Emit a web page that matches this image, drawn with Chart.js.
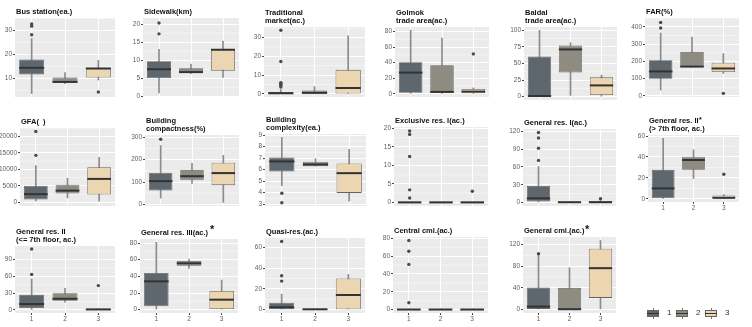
<!DOCTYPE html>
<html>
<head>
<meta charset="utf-8">
<script src="https://cdn.jsdelivr.net/npm/chart.js@4/dist/chart.umd.min.js"></script>
<style>
  html, body { margin: 0; padding: 0; background: #fff; }
  #wrap { position: relative; width: 752px; height: 327px; overflow: hidden; font-family: "Liberation Sans", Arial, sans-serif; }
  #wrap canvas { position: absolute; }
  .ttl { position: absolute; font-weight: bold; font-size: 7.5px; line-height: 8.5px; color: #111; white-space: pre; }
  .star { position: absolute; font-weight: bold; color: #111; line-height: 1; }
  .key { position: absolute; width: 12px; height: 11px; }
  .key .wh { position: absolute; left: 5.5px; top: 0; width: 1px; height: 11px; background: #777; }
  .key .bx { position: absolute; left: 0; top: 2px; width: 10px; height: 5px; border: 1px solid #666; }
  .key .md { position: absolute; left: 0; top: 4.5px; width: 12px; height: 1.5px; background: #333; }
  .klab { position: absolute; font-size: 8px; color: #333; }
</style>
</head>
<body>
<div id="wrap"></div>
<script>
// groups and fill colours
const GROUPS = ["1", "2", "3"];
const FILL = ["#5f676e", "#8e8b80", "#ecd5b1"];

// each group: [lower whisker, q1, median, q3, upper whisker]
const busStation = [[3.6, 11.6, 14.4, 17.9, 26.6], [7.8, 8.2, 8.5, 10.3, 12.4], [9.3, 10.3, 14.1, 14.4, 17.5]];
const busStationOut = [[28.2, 31.8, 32.7], [], [4.3]];
const sidewalk = [[0.9, 5.0, 7.5, 9.7, 13.0], [6.3, 6.5, 6.7, 7.8, 8.9], [5.2, 7.1, 12.9, 13.0, 15.3]];
const sidewalkOut = [[17.3, 20.3], [], []];
const market = [[0, 0, 0.3, 1.0, 2.2], [0, 0, 0.5, 1.8, 3.8], [0, 0.2, 3.1, 12.8, 31]];
const marketOut = [[3.6, 4.3, 5.0, 5.5, 6.0, 17.3, 34], [], []];
const golmok = [[0, 1.2, 27.2, 40.4, 81.6], [0, 1.2, 2.4, 36.6, 71.5], [0, 0.8, 2.8, 6.1, 7.5]];
const golmokOut = [[], [], [51.2]];
const baldal = [[0, 0.5, 1, 60.7, 100], [2, 36.6, 71.2, 77.3, 81.3], [0, 2.5, 17, 29.1, 32.5]];
const baldalOut = [[], [], []];
const far = [[34, 100, 142, 207, 364], [166, 166, 170, 255, 340], [130, 139, 159, 192, 245]];
const farOut = [[393, 425], [], [15]];
const gfa = [[500, 865, 2507, 5086, 11153], [1354, 2709, 3573, 5389, 7320], [400, 2421, 7118, 10663, 13650]];
const gfaOut = [[14236, 21440], [], []];
const compact = [[28, 62, 104, 142, 263], [94, 108, 126, 154, 183], [9, 86, 140, 186, 219]];
const compactOut = [[291], [], []];
const complexity = [[4.6, 5.83, 6.71, 7.06, 8.8], [6.3, 6.3, 6.45, 6.69, 6.95], [3.26, 3.97, 5.69, 6.54, 7.77]];
const complexityOut = [[3.11, 3.94], [], []];
const exclusive = [[0, 0, 0, 0.25, 0], [0, 0, 0, 0.25, 0], [0, 0, 0, 0.25, 0]];
const exclusiveOut = [[1.2, 3.4, 12.4, 18.4, 19.3], [], [3.0]];
const genRes1 = [[0, 1.6, 7, 28, 60.8], [0, 0.2, 0.5, 1, 1.5], [0, 0.2, 0.5, 2, 3]];
const genRes1Out = [[71, 91.5, 108.7, 118], [], [6.4]];
const genRes2High = [[0, 0, 10, 27.7, 57.7], [19.4, 27.7, 37.1, 40.3, 46.8], [0, 0, 1, 3.2, 4]];
const genRes2HighOut = [[], [], [23.5]];
const genRes2Low = [[0, 3.5, 10.6, 27, 55.3], [14, 16.5, 20, 30, 38.8], [0, 0, 1, 2, 2]];
const genRes2LowOut = [[63.5, 108.8], [], [43.5]];
const genRes3 = [[0, 4, 34, 44, 80.8], [49.6, 52.8, 55.6, 58.4, 60.8], [0, 0.8, 12, 22.4, 35.6]];
const genRes3Out = [[], [], []];
const quasi = [[0, 0.3, 2.2, 6.7, 15], [0, 0, 0.3, 0.6, 0.6], [0, 0.3, 14.1, 30.2, 34]];
const quasiOut = [[27.6, 32.7, 66], [], []];
const central = [[0, 0, 0, 0.6, 0.6], [0, 0, 0, 0.6, 0.6], [0, 0, 0, 0.6, 0.6]];
const centralOut = [[7.6, 50.8, 65.6, 77.7], [], []];
const genCml = [[0, 1.2, 5.5, 40.6, 100], [0, 0, 0.6, 40, 77], [1.2, 21.5, 76.3, 112, 127.4]];
const genCmlOut = [[103], [], []];

// y tick labels per panel
const busStationTicks = [10, 20, 30];
const sidewalkTicks = [0, 5, 10, 15, 20];
const marketTicks = [0, 10, 20, 30];
const golmokTicks = [0, 20, 40, 60, 80];
const baldalTicks = [0, 25, 50, 75, 100];
const farTicks = [0, 100, 200, 300, 400];
const gfaTicks = [0, 5000, 10000, 15000, 20000];
const compactTicks = [0, 100, 200, 300];
const complexityTicks = [3, 4, 5, 6, 7, 8, 9];
const exclusiveTicks = [0, 5, 10, 15, 20];
const genRes1Ticks = [0, 30, 60, 90, 120];
const genRes2HighTicks = [0, 20, 40, 60];
const genRes2LowTicks = [0, 30, 60, 90];
const genRes3Ticks = [0, 20, 40, 60, 80];
const quasiTicks = [0, 20, 40, 60];
const centralTicks = [0, 20, 40, 60, 80];
const genCmlTicks = [0, 40, 80, 120];

// panel layout: plot rect [left, top, right, bottom], y range [min, max]
const PANELS = [
  { t: "Bus station(ea.)", d: busStation, o: busStationOut, k: busStationTicks, r: [15, 18, 116, 100], y: [2.2, 35.2] },
  { t: "Sidewalk(km)", d: sidewalk, o: sidewalkOut, k: sidewalkTicks, r: [143, 18, 240, 100], y: [-0.2, 21.7] },
  { t: "Traditional\nmarket(ac.)", d: market, o: marketOut, k: marketTicks, r: [264, 27, 366, 100], y: [-1.7, 35.7] },
  { t: "Golmok\ntrade area(ac.)", d: golmok, o: golmokOut, k: golmokTicks, r: [395, 27, 490, 100], y: [-4.1, 85.7] },
  { t: "Baldal\ntrade area(ac.)", d: baldal, o: baldalOut, k: baldalTicks, r: [524, 27, 617, 100], y: [-5, 105] },
  { t: "FAR(%)", d: far, o: farOut, k: farTicks, r: [645, 18, 740, 100], y: [-6, 451] },
  { t: "GFA(  )", d: gfa, o: gfaOut, k: gfaTicks, r: [20, 128, 116, 209], y: [-1072, 22512] },
  { t: "Building\ncompactness(%)", d: compact, o: compactOut, k: compactTicks, r: [145, 135, 240, 209], y: [-7, 310] },
  { t: "Building\ncomplexity(ea.)", d: complexity, o: complexityOut, k: complexityTicks, r: [265, 134, 367, 209], y: [2.83, 9.1] },
  { t: "Exclusive res. I(ac.)", d: exclusive, o: exclusiveOut, k: exclusiveTicks, r: [394, 127, 489, 209], y: [-0.97, 20.4] },
  { t: "General res. I(ac.)", d: genRes1, o: genRes1Out, k: genRes1Ticks, r: [523, 129, 617, 209], y: [-5.9, 124] },
  { t: "General res. II\n(> 7th floor, ac.)", d: genRes2High, o: genRes2HighOut, k: genRes2HighTicks, r: [648, 135, 740, 202], y: [-3, 61], xl: true },
  { t: "General res. II\n(<= 7th floor, ac.)", d: genRes2Low, o: genRes2LowOut, k: genRes2LowTicks, r: [15, 246, 116, 313], y: [-5.4, 114.2], xl: true },
  { t: "General res. III(ac.)", d: genRes3, o: genRes3Out, k: genRes3Ticks, r: [140, 239, 238, 313], y: [-4, 84.8], xl: true },
  { t: "Quasi-res.(ac.)", d: quasi, o: quasiOut, k: quasiTicks, r: [265, 238, 366, 313], y: [-3.3, 69.3], xl: true },
  { t: "Central cml.(ac.)", d: central, o: centralOut, k: centralTicks, r: [393, 237, 489, 313], y: [-3.9, 81.6], xl: true },
  { t: "General cml.(ac.)", d: genCml, o: genCmlOut, k: genCmlTicks, r: [523, 237, 617, 313], y: [-6.4, 133.8], xl: true },
];

const STARS = [
  { x: 699, y: 116, size: 7 },
  { x: 210, y: 224, size: 11 },
  { x: 585, y: 224, size: 11 },
];

const FONT = '"Liberation Sans", Arial, sans-serif';
const TICK_COL = "#5e5e5e";
const YW = 30, PADT = 5, PADR = 3;
const wrap = document.getElementById("wrap");

// panel background, minor grid, median lines
const boxPlugin = {
  id: "boxplot",
  beforeDraw(chart) {
    const a = chart.chartArea, c = chart.ctx;
    c.save();
    c.fillStyle = "#ebebeb";
    c.fillRect(a.left, a.top, a.right - a.left, a.bottom - a.top);
    c.restore();
  },
  beforeDatasetsDraw(chart) {
    const a = chart.chartArea, c = chart.ctx, ys = chart.scales.y;
    const tk = ys.ticks.map((t) => t.value);
    const step = tk[1] - tk[0];
    c.save();
    c.strokeStyle = "rgba(255,255,255,0.75)";
    c.lineWidth = 0.6;
    for (let v = tk[0] - step / 2; v < ys.max; v += step) {
      if (v <= ys.min) continue;
      const y = ys.getPixelForValue(v);
      c.beginPath();
      c.moveTo(a.left, y);
      c.lineTo(a.right, y);
      c.stroke();
    }
    c.restore();
  },
  afterDatasetsDraw(chart) {
    const ds = chart.data.datasets[1];
    const meta = chart.getDatasetMeta(1);
    const ys = chart.scales.y, c = chart.ctx;
    c.save();
    c.strokeStyle = "#333";
    c.lineWidth = 2;
    meta.data.forEach((bar, i) => {
      const y = ys.getPixelForValue(ds.medians[i]);
      c.beginPath();
      c.moveTo(bar.x - bar.width / 2, y);
      c.lineTo(bar.x + bar.width / 2, y);
      c.stroke();
    });
    c.restore();
  },
};

PANELS.forEach((p) => {
  const [L, T, R, B] = p.r;
  const [ymin, ymax] = p.y;
  const XH = p.xl ? 11 : 1;

  const cv = document.createElement("canvas");
  const w = R - L + YW + PADR, h = PADT + (B - T) + XH;
  cv.width = w; cv.height = h;
  cv.style.left = (L - YW) + "px";
  cv.style.top = (T - PADT) + "px";
  cv.style.width = w + "px"; cv.style.height = h + "px";
  wrap.appendChild(cv);

  const ttl = document.createElement("div");
  ttl.className = "ttl";
  ttl.textContent = p.t;
  const n = p.t.split("\n").length;
  ttl.style.left = (L + 1) + "px";
  ttl.style.top = (T - 1.5 - 8.5 * n) + "px";
  wrap.appendChild(ttl);

  const pts = [];
  p.o.forEach((arr, i) => arr.forEach((v) => pts.push({ x: GROUPS[i], y: v })));

  new Chart(cv, {
    type: "bar",
    data: {
      labels: GROUPS,
      datasets: [
        { data: p.d.map((s) => [s[0], s[4]]), backgroundColor: "#8c8c8c", barThickness: 1, grouped: false, order: 3 },
        {
          data: p.d.map((s) => [s[1], s[3]]), medians: p.d.map((s) => s[2]),
          backgroundColor: FILL, borderColor: "#646464", borderWidth: 0.8, borderSkipped: false,
          barPercentage: 0.75, categoryPercentage: 1, grouped: false, order: 2,
        },
        { type: "scatter", data: pts, pointRadius: 1.7, pointBackgroundColor: "#4a4a4a", pointBorderWidth: 0, order: 1 },
      ],
    },
    options: {
      responsive: false,
      animation: false,
      events: [],
      devicePixelRatio: 1,
      layout: { padding: { top: PADT, right: PADR, left: 0, bottom: 0 } },
      plugins: { legend: { display: false }, tooltip: { enabled: false } },
      scales: {
        x: {
          offset: true,
          border: { display: false },
          grid: { color: "#ffffff", lineWidth: 1, offset: false, drawTicks: !!p.xl, tickLength: 2, tickColor: "#444" },
          ticks: { display: !!p.xl, font: { family: FONT, size: 6.5 }, color: TICK_COL, padding: 0 },
          afterFit: (s) => { s.height = XH; s.paddingLeft = 0; s.paddingRight = 0; },
        },
        y: {
          min: ymin, max: ymax,
          border: { display: false },
          grid: { color: "#ffffff", lineWidth: 1, tickLength: 2, tickColor: "#444" },
          afterBuildTicks: (s) => { s.ticks = p.k.map((v) => ({ value: v })); },
          ticks: {
            autoSkip: false,
            font: { family: FONT, size: 6.5 }, color: TICK_COL, padding: 1,
            callback: (v) => String(v),
          },
          afterFit: (s) => { s.width = YW; s.paddingTop = 0; s.paddingBottom = 0; },
        },
      },
    },
    plugins: [boxPlugin],
  });
});

STARS.forEach((s) => {
  const d = document.createElement("div");
  d.className = "star";
  d.textContent = "*";
  d.style.left = s.x + "px";
  d.style.top = s.y + "px";
  d.style.fontSize = s.size + "px";
  wrap.appendChild(d);
});

// legend
GROUPS.forEach((g, i) => {
  const k = document.createElement("div");
  k.className = "key";
  k.style.left = (647 + i * 29) + "px";
  k.style.top = "308px";
  k.innerHTML = '<div class="wh"></div><div class="bx" style="background:' + FILL[i] + '"></div><div class="md"></div>';
  wrap.appendChild(k);
  const lb = document.createElement("div");
  lb.className = "klab";
  lb.textContent = g;
  lb.style.left = (667 + i * 29) + "px";
  lb.style.top = "308px";
  wrap.appendChild(lb);
});
</script>
</body>
</html>
